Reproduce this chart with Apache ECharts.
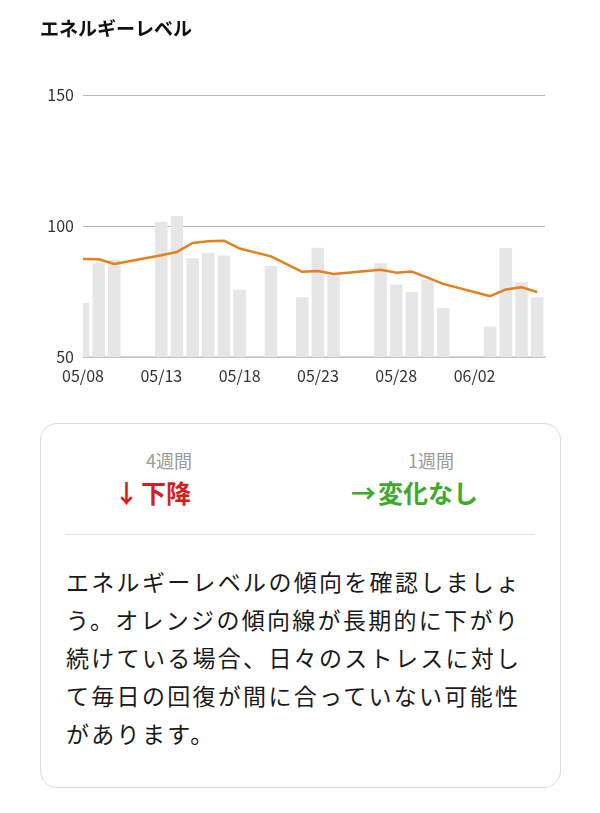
<!DOCTYPE html>
<html><head><meta charset="utf-8">
<script src="https://cdn.jsdelivr.net/npm/echarts@6/dist/echarts.min.js"></script>
<style>
html,body{margin:0;padding:0;background:#fff;width:600px;height:813px;overflow:hidden;font-family:"Noto Sans CJK JP",sans-serif;}
#chart{position:absolute;left:0;top:0;width:600px;height:410px;}
.card{position:absolute;left:40px;top:423px;width:521px;height:365px;box-sizing:border-box;border:1px solid #dcdcdc;border-radius:17px;}
.lab{position:absolute;width:200px;text-align:center;font-size:18px;line-height:24px;color:#9a9a9a;top:448px;}
.val{position:absolute;font-size:25px;line-height:30px;font-weight:bold;top:477px;white-space:nowrap;}
.arr{display:inline-block;width:27px;text-align:left;}
.div{position:absolute;left:65px;top:534px;width:470px;height:1px;background:#e5e5e5;}
.para{position:absolute;left:66px;top:563px;font-size:23px;line-height:37.9px;letter-spacing:2.3px;color:#1a1a1a;white-space:nowrap;}
</style></head>
<body>
<div id="chart"></div>
<div class="card"></div>
<div class="lab" style="left:69px">4週間</div>
<div class="val" style="left:114px;color:#d21f1f"><span class="arr">↓</span>下降</div>
<div class="lab" style="left:331px">1週間</div>
<div class="val" style="left:351px;color:#3daa2e"><span class="arr">→</span>変化なし</div>
<div class="div"></div>
<div class="para">エネルギーレベルの傾向を確認しましょ<br>う。オレンジの傾向線が長期的に下がり<br>続けている場合、日々のストレスに対し<br>て毎日の回復が間に合っていない可能性<br>があります。</div>
<script>
const xTickLabels = ['05/08','05/13','05/18','05/23','05/28','06/02'];
const yTicks = [50, 100, 150];
const dayIndex = [0,1,2,5,6,7,8,9,10,12,14,15,16,19,20,21,22,23,26,27,28,29];
const energyValues = [70.6,85.8,87.0,101.6,103.8,87.7,89.8,88.7,75.7,84.7,72.8,91.7,81.2,85.8,77.7,74.8,79.5,68.7,61.6,91.6,78.5,72.8];
const trendValues = [87.4,87.3,85.5,88.8,90.1,93.5,94.2,94.4,91.4,88.4,82.5,82.8,81.7,83.3,82.2,82.6,80.3,77.9,73.2,75.8,76.6,74.8];

const chart = echarts.init(document.getElementById('chart'));
chart.setOption({
  animation: false,
  title: {
    text: 'エネルギーレベル', left: 35, top: 14,
    textStyle: { fontSize: 19, fontWeight: 'bold', color: '#111', fontFamily: 'Noto Sans CJK JP' }
  },
  grid: { left: 83, right: 55, top: 95, bottom: 53 },
  xAxis: {
    type: 'value', min: 0, max: 29.5, interval: 5,
    axisLine: { show: true, onZero: false, lineStyle: { color: '#c8c8c8', width: 1.5 } },
    axisTick: { show: false },
    splitLine: { show: false },
    axisLabel: {
      showMaxLabel: false, margin: 11, fontSize: 16, color: '#333', fontFamily: 'Noto Sans CJK JP',
      formatter: v => xTickLabels[v / 5] || ''
    }
  },
  yAxis: {
    type: 'value', min: yTicks[0], max: yTicks[yTicks.length - 1], interval: 50,
    axisLine: { show: false }, axisTick: { show: false },
    splitLine: { lineStyle: { color: '#b8b8b8', width: 1 } },
    axisLabel: { margin: 9, fontSize: 16, color: '#333', fontFamily: 'Noto Sans CJK JP' }
  },
  series: [
    {
      type: 'custom',
      data: dayIndex.map((d, i) => [d, energyValues[i]]),
      encode: { x: 0, y: 1 },
      renderItem: function (params, api) {
        const top = api.coord([api.value(0), api.value(1)]);
        const base = api.coord([api.value(0), yTicks[0]]);
        const w = api.size([1, 0])[0] * 0.8;
        const rect = echarts.graphic.clipRectByRect(
          { x: top[0] - w / 2, y: top[1], width: w, height: base[1] - top[1] },
          { x: params.coordSys.x, y: params.coordSys.y, width: params.coordSys.width, height: params.coordSys.height }
        );
        return rect && { type: 'rect', shape: rect, style: { fill: '#e6e6e6' } };
      },
      z: 2
    },
    {
      type: 'line', symbol: 'none', smooth: false,
      lineStyle: { color: '#e5801e', width: 2.5 },
      data: dayIndex.map((d, i) => [d, trendValues[i]]),
      z: 3
    }
  ]
});
</script>
</body></html>
